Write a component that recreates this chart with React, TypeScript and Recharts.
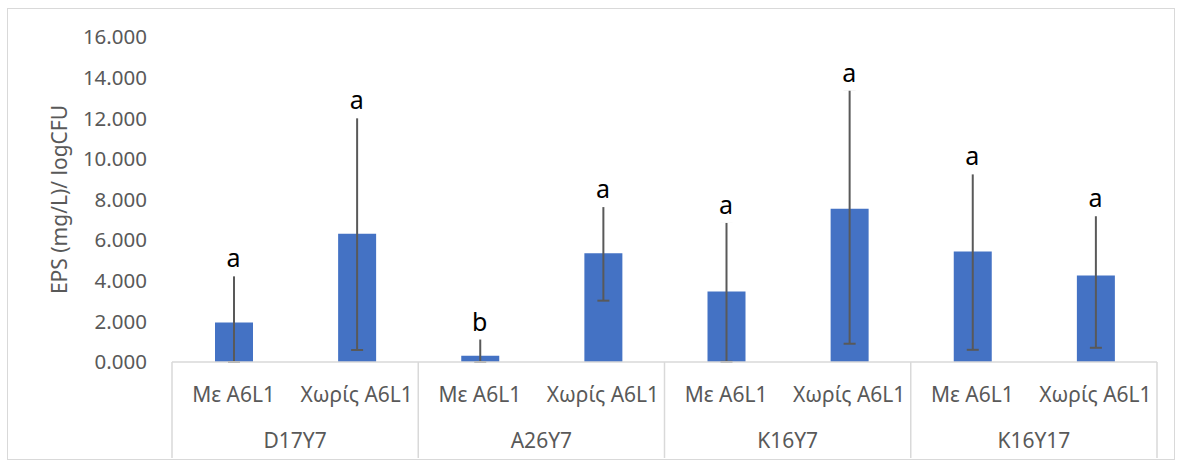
import React from "react";
import {
  ComposedChart,
  Bar,
  Line,
  XAxis,
  YAxis,
  ErrorBar,
  LabelList,
} from "recharts";

const groups = ["D17Y7", "A26Y7", "K16Y7", "K16Y17"];
const treatments = ["Με A6L1", "Χωρίς A6L1"];
const eps = [1.95, 6.31, 0.31, 5.36, 3.47, 7.54, 5.44, 4.26];
const errLow = [1.95, 5.72, 0.31, 2.34, 3.46, 6.64, 4.84, 3.56];
const errHigh = [2.34, 5.76, 0.87, 2.34, 3.45, 5.89, 3.87, 2.99];
const letters = ["a", "a", "b", "a", "a", "a", "a", "a"];
const yTicks = [0, 2, 4, 6, 8, 10, 12, 14, 16];

const data = eps.map((v, i) => ({
  name: treatments[i % 2],
  group: groups[Math.floor(i / 2)],
  eps: v,
  err: [errLow[i], errHigh[i]],
  top: v + errHigh[i],
  letter: letters[i],
}));

const FONT = "'Noto Sans', 'Open Sans', sans-serif";
const GREY = "#595959";
const LINE = "#d9d9d9";
const W = 1179;
const H = 464;
const PLOT_LEFT = 172;
const PLOT_RIGHT = 1157;
const PLOT_TOP = 37;
const PLOT_BOTTOM = 362;
const BAND = (PLOT_RIGHT - PLOT_LEFT) / data.length;

// two-level category axis: treatment under each bar, strain under each pair
const CategoryTick = (props: any) => {
  const { x, index, payload } = props;
  const row = data[index];
  return (
    <g>
      <text
        x={x}
        y={395}
        dy="0.355em"
        textAnchor="middle"
        fill={GREY}
        fontSize={21}
        fontFamily={FONT}
      >
        {payload.value}
      </text>
      {index % 2 === 0 && (
        <>
          <line
            x1={x - BAND / 2}
            x2={x - BAND / 2}
            y1={PLOT_BOTTOM}
            y2={458}
            stroke={LINE}
            strokeWidth={1.5}
          />
          <text
            x={x + BAND / 2}
            y={441}
            dy="0.355em"
            textAnchor="middle"
            fill={GREY}
            fontSize={21}
            fontFamily={FONT}
          >
            {row.group}
          </text>
        </>
      )}
      {index === data.length - 1 && (
        <line
          x1={x + BAND / 2}
          x2={x + BAND / 2}
          y1={PLOT_BOTTOM}
          y2={458}
          stroke={LINE}
          strokeWidth={1.5}
        />
      )}
    </g>
  );
};

// significance letter sitting on a white box just above the whisker
const Letter = (props: any) => {
  const { x, y, value } = props;
  return (
    <g>
      <rect x={x - 12} y={y - 32} width={24} height={33.5} fill="#ffffff" />
      <text
        x={x}
        y={y - 7.5}
        textAnchor="middle"
        fill="#000000"
        fontSize={25}
        fontFamily={FONT}
      >
        {value}
      </text>
    </g>
  );
};

const YTitle = (props: any) => {
  const { viewBox } = props;
  const cy = viewBox.y + viewBox.height / 2;
  return (
    <text
      x={59}
      y={cy}
      transform={`rotate(-90, 59, ${cy})`}
      textAnchor="middle"
      dominantBaseline="central"
      fill={GREY}
      fontSize={21}
      fontFamily={FONT}
    >
      EPS (mg/L)/ logCFU
    </text>
  );
};

export default function App() {
  return (
    <div
      style={{
        position: "absolute",
        left: 0,
        top: 0,
        width: W,
        height: H,
        background: "#ffffff",
      }}
    >
      <div
        style={{
          position: "absolute",
          left: 7,
          top: 8,
          width: 1168,
          height: 452,
          border: `1px solid ${LINE}`,
          boxSizing: "border-box",
        }}
      />
      <ComposedChart
        width={W}
        height={H}
        data={data}
        margin={{ top: PLOT_TOP, right: W - PLOT_RIGHT, bottom: 0, left: 0 }}
        style={{ position: "absolute", left: 0, top: 0 }}
      >
        <XAxis
          dataKey="name"
          height={H - PLOT_BOTTOM}
          interval={0}
          tickLine={false}
          axisLine={{ stroke: LINE, strokeWidth: 1.5 }}
          tick={<CategoryTick />}
        />
        <YAxis
          width={PLOT_LEFT}
          domain={[0, 16]}
          ticks={yTicks}
          allowDataOverflow
          axisLine={false}
          tickLine={false}
          tickMargin={19}
          tickFormatter={(v: number) => v.toFixed(3)}
          tick={{ fill: GREY, fontSize: 20.5, fontFamily: FONT }}
          label={<YTitle />}
        />
        <Bar dataKey="eps" fill="#4472C4" barSize={38} isAnimationActive={false}>
          <ErrorBar
            dataKey="err"
            direction="y"
            width={6}
            stroke={GREY}
            strokeWidth={2}
          />
        </Bar>
        <Line
          dataKey="top"
          stroke="none"
          dot={false}
          activeDot={false}
          isAnimationActive={false}
        >
          <LabelList dataKey="letter" content={<Letter />} />
        </Line>
      </ComposedChart>
    </div>
  );
}
